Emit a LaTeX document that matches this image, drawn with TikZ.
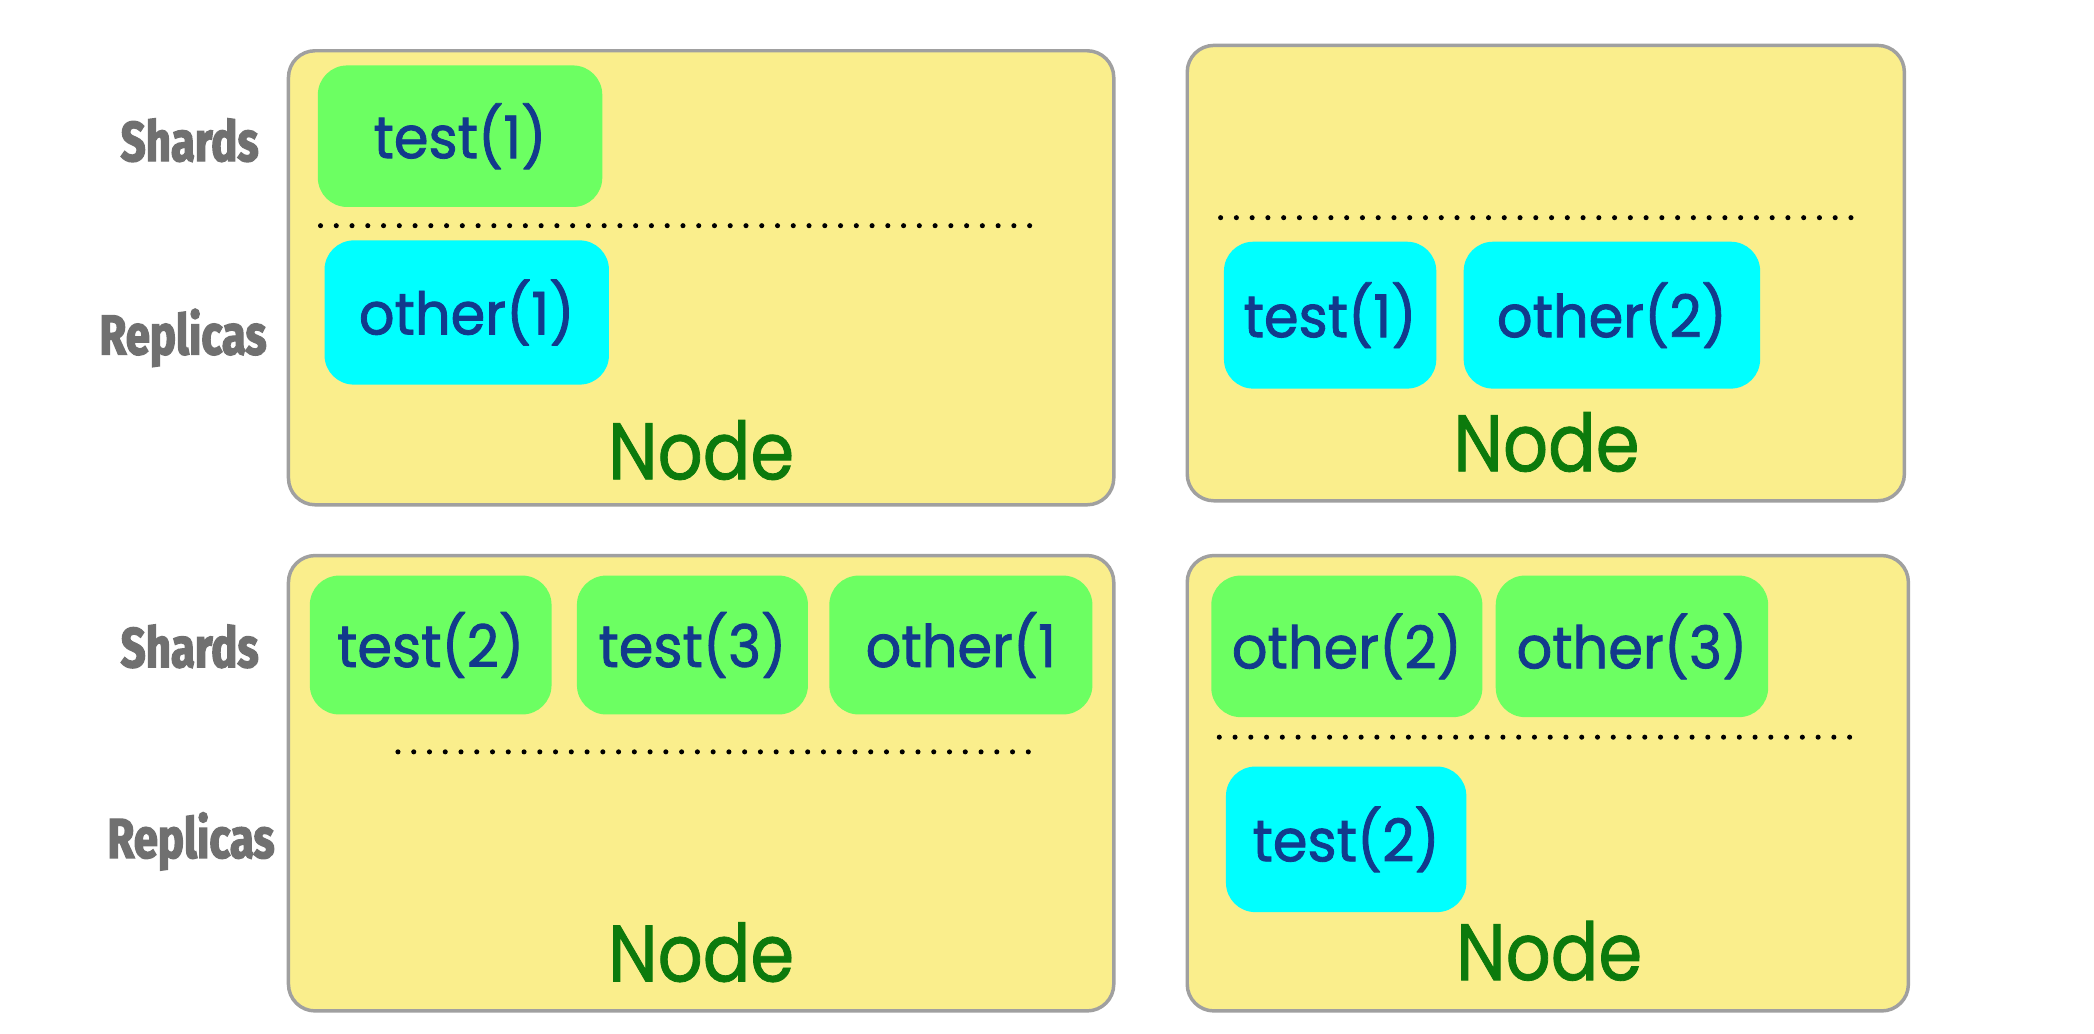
\documentclass[tikz,border=0pt]{standalone}
\usepackage{fontspec}
\newfontfamily\boxfont[FakeBold=1.4,FakeStretch=0.95]{Poppins}
\newfontfamily\nodefont[FakeBold=1.0,FakeStretch=0.88]{Poppins}
\newfontfamily\labfont[FakeStretch=0.78,FakeBold=2.4]{Fira Sans}
\definecolor{nodeyellow}{HTML}{FAEE8C}
\definecolor{boxgray}{HTML}{A0A0A0}
\definecolor{shardgreen}{HTML}{6CFF62}
\definecolor{repcyan}{HTML}{00FFFF}
\definecolor{txtblue}{HTML}{123A8C}
\definecolor{nodegreen}{HTML}{0C7A0C}
\definecolor{labgray}{HTML}{707070}
\begin{document}
\begin{tikzpicture}[x=0.5pt,y=-0.5pt,
  nodebox/.style={draw=boxgray, line width=1.3pt, fill=nodeyellow, rounded corners=10pt, inner sep=0pt},
  shardbox/.style={fill=shardgreen, rounded corners=11pt, inner sep=0pt, font=\boxfont\fontsize{22}{26}\selectfont, text=txtblue},
  repbox/.style={fill=repcyan, rounded corners=11pt, inner sep=0pt, font=\boxfont\fontsize{22}{26}\selectfont, text=txtblue},
  nodelabel/.style={font=\nodefont\fontsize{30}{36}\selectfont, text=nodegreen, inner sep=0pt},
  rowlabel/.style={font=\labfont\bfseries\fontsize{21}{25}\selectfont, text=labgray, inner sep=0pt},
  sep/.style={line width=1.9pt, line cap=round, dash pattern=on 0pt off 5.9pt}
]
\useasboundingbox[fill=white] (0,0) rectangle (1568,774);

% top-left node
\node[nodebox, minimum width=309pt, minimum height=170pt] (n1) at (525,208) {};
\node[shardbox, minimum width=106.5pt, minimum height=53pt] (n1s1) at (344.5,102) {test(1)};
\node[repbox, minimum width=106.5pt, minimum height=54pt] (n1r1) at (349.5,234) {other(1)};
\node[nodelabel] (n1l) at (525,337) {Node};
\coordinate (n1a) at (240,169);
\coordinate (n1b) at (777,169);
\draw[sep] (n1a) -- (n1b);

% top-right node
\node[nodebox, minimum width=268.5pt, minimum height=170.5pt] (n2) at (1157.5,204.5) {};
\node[repbox, minimum width=79.5pt, minimum height=55pt] (n2r1) at (996,236) {test(1)};
\node[repbox, minimum width=111pt, minimum height=55pt] (n2r2) at (1207,236) {other(2)};
\node[nodelabel] (n2l) at (1158,331) {Node};
\coordinate (n2a) at (914,163);
\coordinate (n2b) at (1392,163);
\draw[sep] (n2a) -- (n2b);

% bottom-left node
\node[nodebox, minimum width=309pt, minimum height=170.5pt] (n3) at (525,586.5) {};
\node[shardbox, minimum width=90.5pt, minimum height=52pt] (n3s1) at (322.5,483) {test(2)};
\node[shardbox, minimum width=86.5pt, minimum height=52pt] (n3s2) at (518.5,483) {test(3)};
\node[shardbox, minimum width=98.5pt, minimum height=52pt] (n3s3) at (719.5,483) {other(1};
\node[nodelabel] (n3l) at (525,713) {Node};
\coordinate (n3a) at (298,563);
\coordinate (n3b) at (777,563);
\draw[sep] (n3a) -- (n3b);

% bottom-right node
\node[nodebox, minimum width=270pt, minimum height=170.5pt] (n4) at (1159,586.5) {};
\node[shardbox, minimum width=101.5pt, minimum height=53pt] (n4s1) at (1008.5,484) {other(2)};
\node[shardbox, minimum width=102pt, minimum height=53pt] (n4s2) at (1222,484) {other(3)};
\node[repbox, minimum width=90pt, minimum height=54.5pt] (n4r1) at (1008,628.5) {test(2)};
\node[nodelabel] (n4l) at (1160,712) {Node};
\coordinate (n4a) at (913,552);
\coordinate (n4b) at (1390,552);
\draw[sep] (n4a) -- (n4b);

% row labels
\node[rowlabel] (ls1) at (142,105) {Shards};
\node[rowlabel] (lr1) at (137,253) {Replicas};
\node[rowlabel] (ls2) at (142,484) {Shards};
\node[rowlabel] (lr2) at (143,630) {Replicas};
\end{tikzpicture}
\end{document}
